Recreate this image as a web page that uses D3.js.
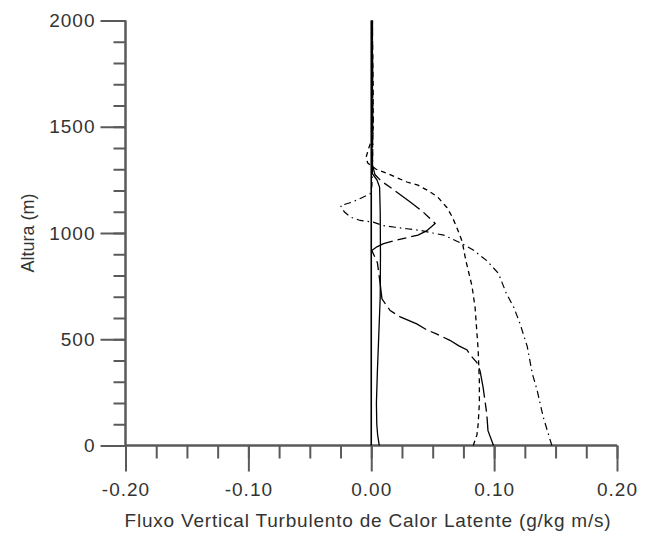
<!DOCTYPE html>
<html>
<head>
<meta charset="utf-8">
<script src="https://cdn.jsdelivr.net/npm/d3@7"></script>
<style>
  html, body { margin: 0; padding: 0; background: #fff; }
  svg { display: block; }
  text { font-family: "Liberation Sans", Arial, sans-serif; fill: #333; }
</style>
</head>
<body>
<svg id="chart" width="652" height="535"></svg>
<script>
// ---- data ----
const xMajorTicks = [-0.2, -0.1, 0.0, 0.1, 0.2];
const xMinorTicks = [-0.2, -0.175, -0.15, -0.125, -0.1, -0.075, -0.05, -0.025, 0, 0.025, 0.05, 0.075, 0.1, 0.125, 0.15, 0.175, 0.2];
const yMajorTicks = [0, 500, 1000, 1500, 2000];
const yMinorTicks = [0,100,200,300,400,500,600,700,800,900,1000,1100,1200,1300,1400,1500,1600,1700,1800,1900,2000];
const xTitle = "Fluxo Vertical Turbulento de Calor Latente (g/kg m/s)";
const yTitle = "Altura (m)";

// zero reference line
const altZero = [0, 2000];
const fluxZero = [0, 0];

// series A (solid)
const altA  = [0, 50, 100, 200, 350, 500, 700, 900, 1100, 1215, 1250, 1280, 1400, 1600, 1800, 2000];
const fluxA = [0.0065, 0.0052, 0.0045, 0.0042, 0.005, 0.006, 0.0073, 0.0075, 0.0073, 0.0068, 0.0046, 0.0008, 0.0006, 0.0006, 0.0005, 0.0004];

// series B (short dashes)
const altB  = [0, 50, 100, 200, 300, 450, 650, 750, 870, 960, 1020, 1075, 1120, 1170, 1200, 1225, 1240, 1260, 1280, 1300, 1330, 1360, 1400, 1450, 1500, 1700, 1900];
const fluxB = [0.083, 0.086, 0.087, 0.088, 0.088, 0.087, 0.0845, 0.082, 0.077, 0.074, 0.070, 0.066, 0.0615, 0.054, 0.046, 0.038, 0.029, 0.021, 0.013, 0.004, -0.003, -0.004, -0.002, 0.001, 0.0015, 0.0015, 0.001];

// series C (long dash - short dash)
const altC  = [0, 70, 150, 275, 350, 390, 430, 450, 470, 495, 525, 545, 572, 605, 635, 690, 760, 860, 918, 935, 950, 965, 990, 1010, 1045, 1100, 1145, 1215, 1245, 1275, 1320, 1500, 1700, 2000];
const fluxC = [0.0995, 0.095, 0.094, 0.091, 0.0886, 0.086, 0.080, 0.078, 0.071, 0.064, 0.053, 0.045, 0.037, 0.0236, 0.0154, 0.0087, 0.0073, 0.005, 0.0005, 0.0046, 0.01, 0.0195, 0.038, 0.045, 0.052, 0.042, 0.032, 0.0154, 0.008, 0.003, 0.001, 0.0012, 0.0012, 0.001];

// series D (dash-dot)
const altD  = [0, 133, 260, 340, 465, 575, 650, 715, 810, 870, 920, 950, 990, 1000, 1012, 1020, 1027, 1035, 1051, 1059, 1075, 1100, 1129, 1145, 1165, 1184, 1220, 1300, 1500, 1700, 2000];
const fluxD = [0.147, 0.140, 0.135, 0.131, 0.127, 0.121, 0.116, 0.110, 0.1035, 0.094, 0.083, 0.074, 0.059, 0.05, 0.04, 0.029, 0.0195, 0.0098, 0.0016, -0.009, -0.017, -0.022, -0.025, -0.0157, -0.008, -0.001, 0.0005, 0.001, 0.0015, 0.001, 0.001];

// ---- chart ----
const svg = d3.select("#chart");
const x = d3.scaleLinear().domain([-0.2, 0.2]).range([125.5, 617]);
const y = d3.scaleLinear().domain([0, 2000]).range([445.5, 20.5]);

const axisColor = "#5a5a5a";
const textColor = "#333";

// x axis minor
const gxMinor = svg.append("g").attr("transform", `translate(0,${y(0)})`)
  .call(d3.axisBottom(x).tickValues(xMinorTicks).tickSize(13).tickFormat(""));
// x axis major
const gxMajor = svg.append("g").attr("transform", `translate(0,${y(0)})`)
  .call(d3.axisBottom(x).tickValues(xMajorTicks).tickSize(26).tickPadding(11)
    .tickFormat(d => d3.format(".2f")(d).replace("−", "-")));
// y axis minor
const gyMinor = svg.append("g").attr("transform", `translate(${x(-0.2)},0)`)
  .call(d3.axisLeft(y).tickValues(yMinorTicks).tickSize(12).tickFormat(""));
// y axis major
const gyMajor = svg.append("g").attr("transform", `translate(${x(-0.2)},0)`)
  .call(d3.axisLeft(y).tickValues(yMajorTicks).tickSize(25).tickPadding(5).tickFormat(d3.format("d")));

[gxMinor, gxMajor, gyMinor, gyMajor].forEach(g => {
  g.selectAll("path.domain").attr("stroke", axisColor).attr("stroke-width", 2);
  g.selectAll(".tick line").attr("stroke", axisColor).attr("stroke-width", 2);
  g.selectAll(".tick text").attr("font-size", 19).attr("letter-spacing", "1px")
    .attr("font-family", "Liberation Sans, Arial, sans-serif").attr("fill", textColor);
});
gxMajor.selectAll("path.domain").attr("d", `M${x(-0.2)},0H${x(0.2)}`);
gxMinor.selectAll("path.domain").attr("d", `M${x(-0.2)},0H${x(0.2)}`);
gyMajor.selectAll("path.domain").attr("d", `M0,${y(0)}V${y(2000)}`);
gyMinor.selectAll("path.domain").attr("d", `M0,${y(0)}V${y(2000)}`);

// titles
svg.append("text")
  .attr("x", 368).attr("y", 527)
  .attr("text-anchor", "middle")
  .attr("font-size", 19).attr("letter-spacing", "0.8px")
  .attr("fill", textColor)
  .text(xTitle);
svg.append("text")
  .attr("transform", `translate(34,${y(1000)}) rotate(-90)`)
  .attr("text-anchor", "middle")
  .attr("font-size", 18)
  .attr("fill", textColor)
  .text(yTitle);

// lines
const line = d3.line().x(d => x(d[0])).y(d => y(d[1])).curve(d3.curveLinear);
const zip = (xs, ys) => xs.map((v, i) => [v, ys[i]]);

const plot = svg.append("g").attr("fill", "none").attr("stroke", "#000");

plot.append("path").attr("d", line(zip(fluxZero, altZero)))
  .attr("stroke-width", 1.6);
plot.append("path").attr("d", line(zip(fluxA, altA)))
  .attr("stroke-width", 1.3);
plot.append("path").attr("d", line(zip(fluxB, altB)))
  .attr("stroke-width", 1.3).attr("stroke-dasharray", "5,4");
plot.append("path").attr("d", line(zip(fluxC, altC)))
  .attr("stroke-width", 1.3).attr("stroke-dasharray", "30,5,9,5");
plot.append("path").attr("d", line(zip(fluxD, altD)))
  .attr("stroke-width", 1.2).attr("stroke-dasharray", "7,4,1.5,4");
</script>
</body>
</html>
